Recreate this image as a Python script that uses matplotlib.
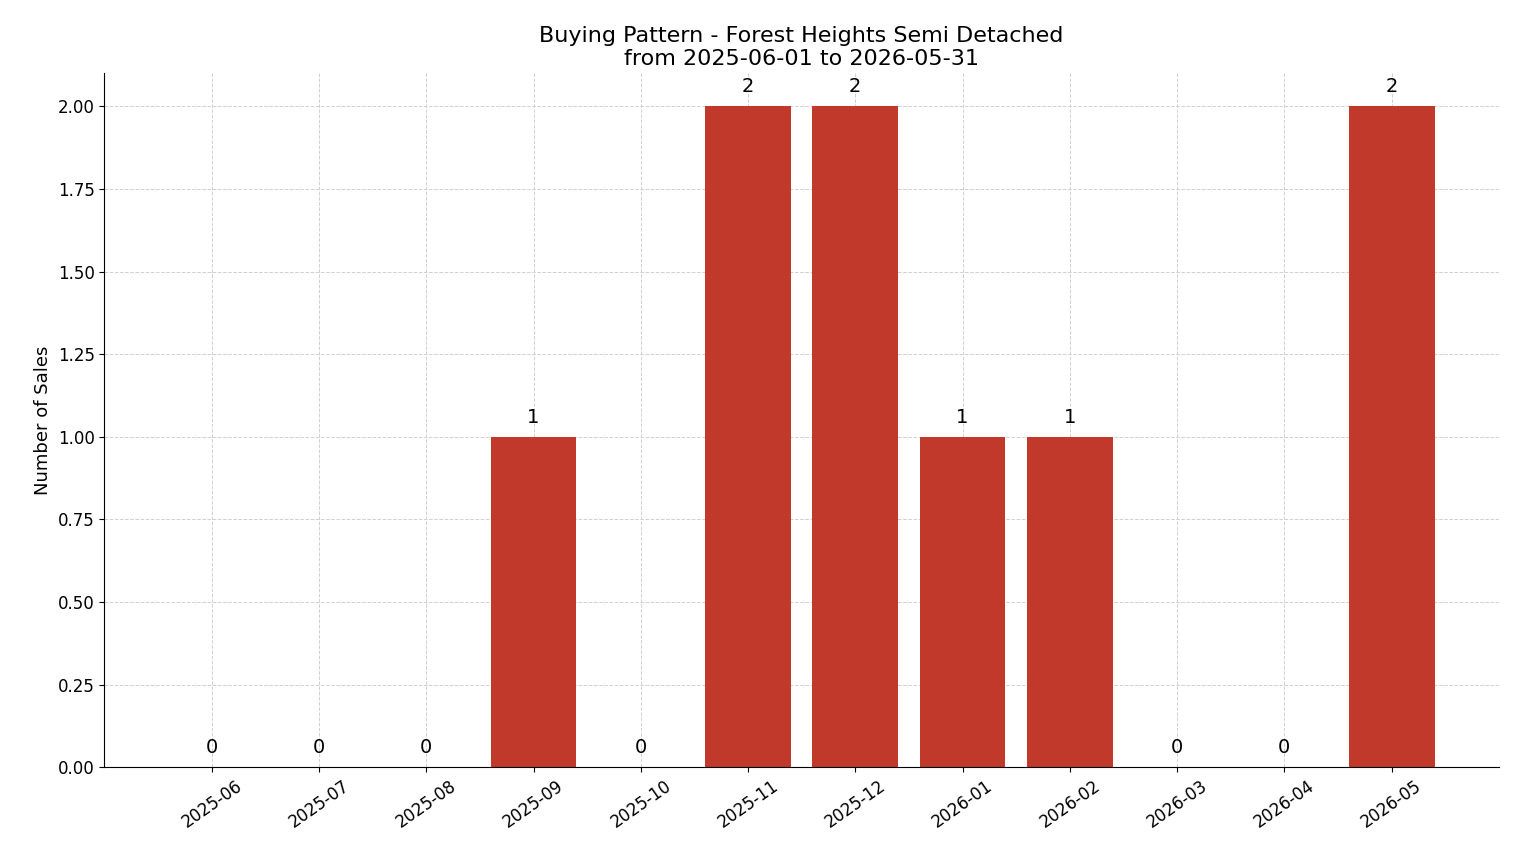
import matplotlib
matplotlib.use('Agg')
import matplotlib.pyplot as plt

months = ['2025-06', '2025-07', '2025-08', '2025-09', '2025-10', '2025-11',
          '2025-12', '2026-01', '2026-02', '2026-03', '2026-04', '2026-05']
sales = [0, 0, 0, 1, 0, 2, 2, 1, 1, 0, 0, 2]

fig, ax = plt.subplots(figsize=(15.14, 8.63), dpi=100)
x = range(len(months))
bars = ax.bar(x, sales, width=0.8, color='#c0392b', zorder=2)
for b, v in zip(bars, sales):
    ax.text(b.get_x() + b.get_width() / 2, v + 0.03, str(v),
            ha='center', va='bottom', fontsize=14)

ax.set_xticks(list(x))
ax.set_xticklabels(months, rotation=35, ha='center', fontsize=12)
ax.tick_params(axis='y', labelsize=12)
ax.set_xlim(-1, 12)
ax.set_ylim(0, 2.1)
ax.yaxis.set_major_formatter(matplotlib.ticker.FormatStrFormatter('%.2f'))
ax.set_ylabel('Number of Sales', fontsize=13)
ax.set_title('Buying Pattern - Forest Heights Semi Detached\nfrom 2025-06-01 to 2026-05-31',
             fontsize=16)
ax.grid(True, linestyle='--', color='#d0d0d0', linewidth=0.7, zorder=0)
ax.spines['top'].set_visible(False)
ax.spines['right'].set_visible(False)

fig.subplots_adjust(left=0.069, right=0.99, top=0.915, bottom=0.111)
fig.savefig('out.png')
